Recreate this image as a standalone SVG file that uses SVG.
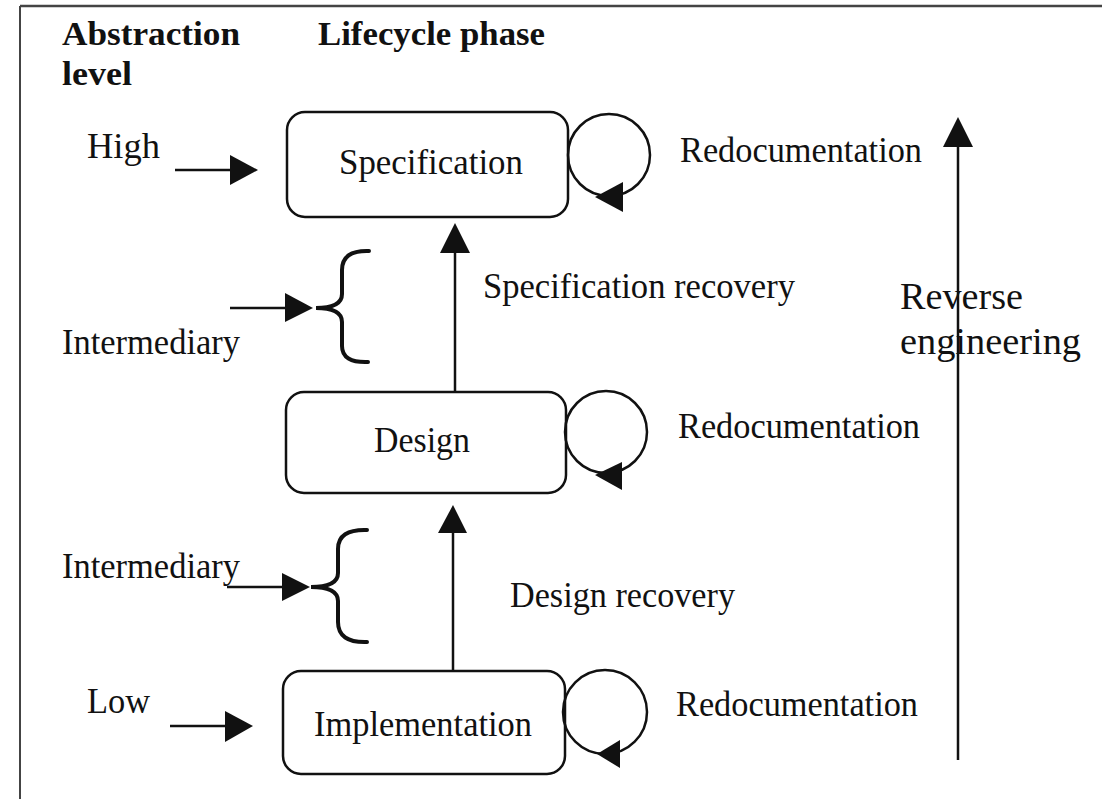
<svg xmlns="http://www.w3.org/2000/svg" width="1102" height="799" viewBox="0 0 1102 799">
<style>
.t{font-family:"Liberation Serif","Times New Roman",serif;font-size:35px;fill:#111}
.r{font-family:"Liberation Serif","Times New Roman",serif;font-size:38px;fill:#111}
.b{font-family:"Liberation Serif","Times New Roman",serif;font-size:33px;font-weight:bold;fill:#111}
.box{fill:#fff;stroke:#111;stroke-width:2.5}
.ln{stroke:#111;stroke-width:2.5;fill:none}
.br{stroke:#111;stroke-width:4;fill:none;stroke-linecap:round}
.ah{fill:#111}
</style>
<rect width="1102" height="799" fill="#fff"/>
<g id="frame">
<line x1="20" y1="6" x2="1102" y2="6" stroke="#444" stroke-width="2.5"/>
<line x1="20" y1="6" x2="20" y2="799" stroke="#444" stroke-width="2"/>
</g>
<g id="headings">
<text class="b" x="62" y="45" textLength="178" lengthAdjust="spacingAndGlyphs">Abstraction</text>
<text class="b" x="62" y="85" textLength="70" lengthAdjust="spacingAndGlyphs">level</text>
<text class="b" x="318" y="45" textLength="227" lengthAdjust="spacingAndGlyphs">Lifecycle phase</text>
</g>
<g id="levels">
<text class="t" x="87" y="158" textLength="73" lengthAdjust="spacingAndGlyphs">High</text>
<text class="t" x="62" y="354" textLength="178" lengthAdjust="spacingAndGlyphs">Intermediary</text>
<text class="t" x="62" y="578" textLength="178" lengthAdjust="spacingAndGlyphs">Intermediary</text>
<text class="t" x="87" y="713" textLength="63" lengthAdjust="spacingAndGlyphs">Low</text>
</g>
<g id="node-specification">
<rect class="box" x="287" y="112" width="281" height="105" rx="18"/>
<text class="t" x="339" y="174" textLength="184" lengthAdjust="spacingAndGlyphs">Specification</text>
</g>
<g id="node-design">
<rect class="box" x="286" y="392" width="280" height="101" rx="18"/>
<text class="t" x="374" y="452" textLength="96" lengthAdjust="spacingAndGlyphs">Design</text>
</g>
<g id="node-implementation">
<rect class="box" x="283" y="671" width="282" height="103" rx="18"/>
<text class="t" x="314" y="736" textLength="218" lengthAdjust="spacingAndGlyphs">Implementation</text>
</g>
<g id="connectors">
<line class="ln" x1="175" y1="170" x2="235" y2="170"/>
<polygon class="ah" points="258,170 230,155 230,185"/>
<line class="ln" x1="170" y1="726" x2="230" y2="726"/>
<polygon class="ah" points="253,726 225,711 225,742"/>
<line class="ln" x1="230" y1="308" x2="290" y2="308"/>
<polygon class="ah" points="313,308 285,293 285,322"/>
<path class="br" d="M369,251 Q342,250 342,270 L342,294 Q342,308 316,308 Q342,308 342,322 L342,346 Q342,363 368,362"/>
<line class="ln" x1="227" y1="587" x2="287" y2="587"/>
<polygon class="ah" points="310,587 282,573 282,601"/>
<path class="br" d="M367,530 Q338,529 338,549 L338,573 Q338,587 311,587 Q338,587 338,601 L338,622 Q338,643 367,642"/>
<line class="ln" x1="455" y1="392" x2="455" y2="245"/>
<polygon class="ah" points="455,223 440,253 470,253"/>
<line class="ln" x1="453" y1="671" x2="453" y2="527"/>
<polygon class="ah" points="453,505 438,533 467,533"/>
<line class="ln" x1="958" y1="760" x2="958" y2="140"/>
<polygon class="ah" points="958,117 943,147 973,147"/>
<circle class="ln" cx="609" cy="155" r="41"/>
<polygon class="ah" points="595,197 623,182 623,212"/>
<circle class="ln" cx="606" cy="432" r="41"/>
<polygon class="ah" points="595,475 622,462 622,490"/>
<circle class="ln" cx="605" cy="712" r="42"/>
<polygon class="ah" points="597,754 620,740 620,768"/>
</g>
<g id="labels">
<text class="t" x="680" y="162" textLength="242" lengthAdjust="spacingAndGlyphs">Redocumentation</text>
<text class="t" x="678" y="438" textLength="242" lengthAdjust="spacingAndGlyphs">Redocumentation</text>
<text class="t" x="676" y="716" textLength="242" lengthAdjust="spacingAndGlyphs">Redocumentation</text>
<text class="t" x="483" y="298" textLength="312" lengthAdjust="spacingAndGlyphs">Specification recovery</text>
<text class="t" x="510" y="607" textLength="225" lengthAdjust="spacingAndGlyphs">Design recovery</text>
<text class="r" x="900" y="309" textLength="123" lengthAdjust="spacingAndGlyphs">Reverse</text>
<text class="r" x="900" y="354" textLength="181" lengthAdjust="spacingAndGlyphs">engineering</text>
</g>
</svg>
